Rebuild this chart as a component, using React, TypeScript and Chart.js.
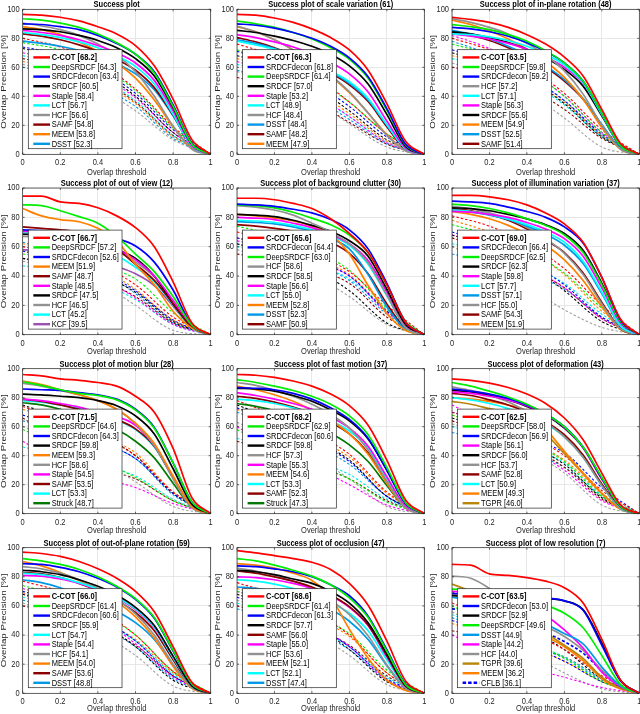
import React, { useEffect, useRef } from "react";
import { Chart, registerables } from "chart.js";
Chart.register(...registerables);

// ---------- shared axes / labels ----------
const THRESH = [0, 0.1, 0.2, 0.3, 0.4, 0.5, 0.6, 0.7, 0.8, 0.9, 1];
const THRESH_D = [0, 0.2, 0.4, 0.6, 0.8, 1];
const X_TICKS = [0, 0.2, 0.4, 0.6, 0.8, 1];
const X_TICK_LABELS = ["0", "0.2", "0.4", "0.6", "0.8", "1"];
const Y_TICKS = [0, 20, 40, 60, 80, 100];
const Y_TICK_LABELS = ["0", "20", "40", "60", "80", "100"];
const X_LABEL = "Overlap threshold";
const Y_LABEL = "Overlap Precision [%]";

// ---------- panel 1 ----------
const P1_TITLE = "Success plot";
const P1_NAMES = ["C-COT", "DeepSRDCF", "SRDCFdecon", "SRDCF", "Staple", "LCT", "HCF", "SAMF", "MEEM", "DSST"];
const P1_SCORES = [68.2, 64.3, 63.4, 60.5, 58.4, 56.7, 56.6, 54.8, 53.8, 52.3];
const P1_CURVES = [
  [96.5, 96, 94.5, 92, 88, 83, 75, 61, 38, 10, 0],
  [93.5, 92.5, 90.5, 87.5, 83, 77, 69, 56, 33, 7, 0],
  [90, 89.5, 88, 86, 82, 76.5, 69, 57, 34, 7.5, 0],
  [86.5, 86, 84.5, 82, 78.5, 73.5, 66, 54, 32, 7, 0],
  [85.5, 84, 82, 79, 75, 70, 63, 51, 30, 6, 0],
  [84, 82.5, 80.5, 77.5, 73.5, 68, 60.5, 48.5, 27.5, 5.5, 0],
  [90.5, 88.5, 86, 82, 76, 68.5, 57, 40, 19.5, 3.5, 0],
  [83, 81.5, 79, 75.5, 71, 65.5, 58, 46, 27, 5.5, 0],
  [88, 86, 82.5, 77.5, 71, 63, 52.5, 37.5, 19, 4, 0],
  [78, 76.5, 74.5, 71.5, 67.5, 62.5, 55.5, 44.5, 26.5, 5.5, 0],
];
const P1_OTHERS = [
  [80, 74, 63, 45, 19, 0], [77, 72, 61, 44, 18, 0], [74, 69, 59, 42, 17, 0], [73, 67, 57, 40, 15, 0],
  [70, 65, 55, 39, 15, 0], [68, 63, 53, 37, 13, 0], [62, 56, 46, 30, 10, 0], [66, 61, 52, 36, 13, 0],
  [64, 59, 50, 35, 12, 0], [60, 55, 47, 33, 11, 0],
];

// ---------- panel 2 ----------
const P2_TITLE = "Success plot of scale variation (61)";
const P2_NAMES = ["C-COT", "SRDCFdecon", "DeepSRDCF", "SRDCF", "Staple", "LCT", "HCF", "DSST", "SAMF", "MEEM"];
const P2_SCORES = [66.3, 61.8, 61.4, 57.0, 53.2, 48.9, 48.4, 48.4, 48.2, 47.9];
const P2_CURVES = [
  [96.5, 96, 94, 91, 86.5, 80.5, 72, 58, 35, 9, 0],
  [90, 89, 87, 84, 80, 74.5, 66.5, 53.5, 31.5, 7, 0],
  [92, 90, 87.5, 84, 79.5, 73.5, 65.5, 52.5, 30.5, 6.5, 0],
  [85.5, 84, 81.5, 78.5, 74.5, 69, 61, 48.5, 27.5, 5.5, 0],
  [82.5, 80.5, 77.5, 74, 69.5, 63.5, 55.5, 43, 23, 4.5, 0],
  [78, 75.5, 72.5, 68.5, 63.5, 57.5, 50, 38.5, 20.5, 4, 0],
  [88.5, 84.5, 79, 72, 64, 54.5, 43, 28.5, 13, 2.5, 0],
  [79, 76.5, 73, 68.5, 63, 57, 49, 37.5, 20, 4, 0],
  [80.5, 77.5, 73.5, 68.5, 62.5, 56, 48, 36.5, 19, 3.5, 0],
  [88, 84.5, 79, 72, 63.5, 54, 42.5, 28.5, 13.5, 2.5, 0],
];
const P2_OTHERS = [
  [76, 68, 55, 36, 14, 0], [72, 65, 53, 36, 14, 0], [71, 63, 50, 33, 12, 0], [68, 61, 48, 30, 10, 0],
  [64, 56, 43, 26, 8, 0], [62, 55, 42, 26, 8, 0], [57, 50, 38, 21, 5, 0], [53, 47, 37, 22, 7, 0],
  [66, 58, 45, 28, 9, 0], [58, 51, 40, 24, 7, 0],
];

// ---------- panel 3 ----------
const P3_TITLE = "Success plot of in-plane rotation (48)";
const P3_NAMES = ["C-COT", "DeepSRDCF", "SRDCFdecon", "HCF", "LCT", "Staple", "SRDCF", "MEEM", "DSST", "SAMF"];
const P3_SCORES = [63.5, 59.8, 59.2, 57.2, 57.1, 56.3, 55.6, 54.9, 52.5, 51.4];
const P3_CURVES = [
  [94.5, 93, 91, 87.5, 82.5, 76, 67, 54, 31, 7.5, 0],
  [89.5, 88, 86, 82.5, 78, 71.5, 63, 50.5, 28.5, 6, 0],
  [87.5, 86.5, 84.5, 81.5, 77, 71, 63, 50.5, 28.5, 6, 0],
  [93.5, 91, 87.5, 83, 76.5, 68.5, 57.5, 41.5, 20, 3.5, 0],
  [83, 82.5, 81, 78.5, 74.5, 69, 61.5, 49.5, 27.5, 5.5, 0],
  [83, 81.5, 79.5, 76.5, 72.5, 67, 60, 49, 28, 6, 0],
  [84.5, 83, 80.5, 77, 72.5, 66.5, 58.5, 47, 26.5, 5.5, 0],
  [92.5, 89.5, 85, 79.5, 72.5, 64, 53, 38, 18.5, 3.5, 0],
  [85.5, 83, 79.5, 74.5, 68.5, 61, 51.5, 38.5, 20.5, 4, 0],
  [84, 82, 78.5, 73.5, 67.5, 60, 50.5, 38, 20, 4, 0],
];
const P3_OTHERS = [
  [80, 72, 60, 42, 17, 0], [76, 69, 58, 40, 15, 0], [72, 65, 54, 37, 14, 0], [70, 63, 52, 35, 12, 0],
  [82, 73, 59, 40, 15, 0], [66, 60, 50, 34, 12, 0], [63, 55, 43, 25, 5, 0], [60, 55, 46, 31, 11, 0],
  [68, 62, 51, 36, 13, 0], [78, 69, 55, 37, 13, 0],
];

// ---------- panel 4 ----------
const P4_TITLE = "Success plot of out of view (12)";
const P4_NAMES = ["C-COT", "DeepSRDCF", "SRDCFdecon", "MEEM", "SAMF", "Staple", "SRDCF", "HCF", "LCT", "KCF"];
const P4_SCORES = [66.7, 57.2, 52.6, 51.9, 48.7, 48.5, 47.5, 46.5, 45.2, 39.5];
const P4_CURVES = [
  [94.5, 94.5, 90.5, 89.5, 86.5, 81, 73, 60, 36, 8, 0],
  [88.5, 88, 84.5, 80.5, 76, 67, 55, 43, 26, 6.5, 0],
  [71.5, 71, 70, 69, 67.5, 65.5, 60.5, 49.5, 30.5, 6.5, 0],
  [86, 81, 78.5, 77, 72.5, 64, 48, 34, 16, 4.5, 0],
  [73.5, 72.5, 71.5, 70, 66.5, 58.5, 48, 37, 21, 5, 0],
  [70.5, 70, 69, 67.5, 64.5, 58.5, 51, 40, 23.5, 6, 0],
  [68.5, 68, 67, 65.5, 63, 58, 52, 40, 21, 5.5, 0],
  [67, 66.5, 65.5, 64, 62, 57, 49.5, 39.5, 22.5, 5, 0],
  [70, 68.5, 66, 63.5, 60, 54, 46, 36, 20.5, 4.5, 0],
  [58, 57, 55.5, 53.5, 50.5, 46.5, 41.5, 33.5, 19.5, 4.5, 0],
];
const P4_OTHERS = [
  [60, 55, 48, 34, 12, 0], [55, 52, 47, 38, 15, 0], [57, 52, 44, 30, 10, 0], [52, 48, 41, 29, 9, 0],
  [57, 50, 40, 25, 7, 0], [47, 43, 36, 24, 7, 0], [50, 45, 36, 20, 3, 0], [52, 47, 38, 26, 8, 0],
  [62, 56, 46, 31, 10, 0], [63, 57, 45, 28, 8, 0],
];

// ---------- panel 5 ----------
const P5_TITLE = "Success plot of background clutter (30)";
const P5_NAMES = ["C-COT", "SRDCFdecon", "DeepSRDCF", "HCF", "SRDCF", "Staple", "LCT", "MEEM", "DSST", "SAMF"];
const P5_SCORES = [65.6, 64.4, 63.0, 58.6, 58.5, 56.6, 55.0, 52.8, 52.3, 50.9];
const P5_CURVES = [
  [93, 93, 92, 89.5, 86, 79, 69, 56, 34, 8.5, 0],
  [89, 88.5, 87.5, 85.5, 83, 78.5, 71.5, 58.5, 35, 8.5, 0],
  [88.5, 88, 86.5, 83.5, 79.5, 75, 68, 56, 34, 9, 0],
  [88, 87, 85, 81.5, 76, 70, 62, 49, 27, 5, 0],
  [82, 81.5, 80.5, 78, 74.5, 70.5, 64, 53.5, 31, 7, 0],
  [80, 79.5, 78.5, 76, 73, 68.5, 62, 50.5, 29, 6, 0],
  [78, 77.5, 76.5, 74.5, 71.5, 67.5, 61, 48, 26.5, 5, 0],
  [82, 81, 79.5, 77.5, 74, 68.5, 55, 33.5, 14.5, 3, 0],
  [77, 76.5, 75.5, 73.5, 70.5, 65.5, 58.5, 41, 19, 3.5, 0],
  [75, 74, 72.5, 70.5, 67.5, 63, 55.5, 41.5, 21, 4, 0],
];
const P5_OTHERS = [
  [70, 64, 55, 43, 20, 0], [74, 68, 58, 44, 18, 0], [66, 60, 51, 40, 16, 0], [62, 54, 45, 30, 8, 0],
  [64, 58, 50, 40, 15, 0], [60, 55, 48, 38, 17, 0], [58, 50, 41, 26, 7, 0], [55, 51, 45, 35, 12, 0],
  [66, 60, 52, 41, 16, 0], [62, 56, 48, 37, 14, 0],
];

// ---------- panel 6 ----------
const P6_TITLE = "Success plot of illumination variation (37)";
const P6_NAMES = ["C-COT", "SRDCFdecon", "DeepSRDCF", "SRDCF", "Staple", "LCT", "DSST", "HCF", "SAMF", "MEEM"];
const P6_SCORES = [69.0, 66.4, 62.5, 62.3, 59.8, 57.7, 57.1, 55.0, 54.3, 51.9];
const P6_CURVES = [
  [95, 95, 94, 92, 88.5, 83, 75.5, 63, 39, 10.5, 0],
  [91, 90.5, 89.5, 87, 84, 80, 73.5, 62.5, 39, 10, 0],
  [89, 88, 86, 83, 79, 74.5, 68, 56, 34, 9, 0],
  [86.5, 86, 84.5, 82, 79, 75, 69, 57.5, 35, 9, 0],
  [84, 83.5, 82, 80, 76.5, 72, 65.5, 53.5, 32, 8, 0],
  [85, 84, 82, 79, 75, 70, 63, 50, 29, 6, 0],
  [85, 83.5, 81.5, 78.5, 74, 68.5, 61, 48.5, 28, 6, 0],
  [87.5, 86, 83, 79, 73, 65.5, 55.5, 41, 21, 4, 0],
  [86, 84.5, 82, 78, 72, 64.5, 56, 42, 22, 4, 0],
  [84, 82, 79, 74.5, 68.5, 61, 51, 37, 19, 3.5, 0],
];
const P6_OTHERS = [
  [81, 74, 62, 45, 20, 0], [75, 68, 57, 42, 18, 0], [70, 62, 50, 34, 12, 0], [68, 60, 48, 30, 9, 0],
  [68, 60, 47, 32, 11, 0], [62, 56, 47, 35, 14, 0], [60, 48, 33, 17, 5, 0], [66, 58, 46, 32, 11, 0],
  [78, 70, 58, 41, 16, 0], [55, 50, 42, 31, 12, 0],
];

// ---------- panel 7 ----------
const P7_TITLE = "Success plot of motion blur (28)";
const P7_NAMES = ["C-COT", "DeepSRDCF", "SRDCFdecon", "SRDCF", "MEEM", "HCF", "Staple", "SAMF", "LCT", "Struck"];
const P7_SCORES = [71.5, 64.6, 64.3, 59.8, 59.3, 58.6, 54.5, 53.5, 53.3, 48.7];
const P7_CURVES = [
  [96, 95, 93, 92, 90.5, 88, 81, 70, 45, 11, 0],
  [91, 88.5, 85.5, 83, 81.5, 78.5, 71.5, 59, 35, 8, 0],
  [86, 85.5, 85, 83.5, 82, 79, 72, 59.5, 35, 8, 0],
  [82.5, 82, 81, 80, 78, 74.5, 67.5, 55, 31, 6.5, 0],
  [91.5, 89, 85.5, 82, 78, 72, 62.5, 48.5, 26, 5, 0],
  [90, 88, 85, 82, 78, 72, 62, 47, 24, 4, 0],
  [79, 78, 76, 73.5, 70, 67, 61, 47, 25, 5, 0],
  [79, 77.5, 75, 72, 69, 65, 58.5, 46.5, 25, 5, 0],
  [78, 77, 75, 72.5, 69, 64.5, 58, 46, 25, 5, 0],
  [76.5, 75, 72, 67.5, 63, 58, 50, 38.5, 21, 4.5, 0],
];
const P7_OTHERS = [
  [74, 65, 54, 40, 15, 0], [58, 47, 37, 25, 9, 0], [68, 60, 50, 38, 14, 0], [75, 66, 55, 40, 14, 0],
  [50, 35, 25, 18, 7, 0], [46, 40, 34, 26, 10, 0], [60, 50, 38, 22, 5, 0], [66, 50, 32, 24, 9, 0],
  [72, 64, 54, 42, 15, 0], [64, 58, 49, 38, 13, 0],
];

// ---------- panel 8 ----------
const P8_TITLE = "Success plot of fast motion (37)";
const P8_NAMES = ["C-COT", "DeepSRDCF", "SRDCFdecon", "SRDCF", "HCF", "Staple", "MEEM", "LCT", "SAMF", "Struck"];
const P8_SCORES = [68.2, 62.9, 60.6, 59.8, 57.3, 55.3, 54.6, 53.3, 52.3, 47.3];
const P8_CURVES = [
  [96, 95.5, 94, 91.5, 88, 82.5, 74.5, 61, 37, 9.5, 0],
  [92.5, 90.5, 88, 85, 81, 75.5, 67.5, 54.5, 32, 7.5, 0],
  [87, 86.5, 85.5, 83, 79, 73, 65, 52, 30, 7, 0],
  [86.5, 86, 84.5, 81.5, 77.5, 71.5, 64, 51.5, 30, 7, 0],
  [90.5, 88.5, 85, 81, 75.5, 68.5, 59, 44, 22.5, 4, 0],
  [83.5, 81.5, 79, 76, 72, 66.5, 59, 46.5, 25.5, 5, 0],
  [88, 85.5, 82, 77.5, 71.5, 64.5, 55, 41, 21, 4, 0],
  [79, 78, 76, 73, 69, 64, 57, 45, 24.5, 5, 0],
  [81, 79.5, 77, 73.5, 69, 63, 55, 42, 22, 4.5, 0],
  [76, 74, 71, 66.5, 61.5, 55.5, 47.5, 36, 19.5, 4, 0],
];
const P8_OTHERS = [
  [78, 68, 56, 41, 15, 0], [58, 45, 34, 24, 8, 0], [73, 63, 51, 36, 12, 0], [75, 65, 52, 37, 12, 0],
  [60, 45, 33, 20, 6, 0], [52, 45, 37, 27, 10, 0], [63, 52, 40, 24, 5, 0], [50, 42, 34, 24, 9, 0],
  [72, 63, 52, 39, 14, 0], [70, 60, 48, 34, 12, 0],
];

// ---------- panel 9 ----------
const P9_TITLE = "Success plot of deformation (43)";
const P9_NAMES = ["C-COT", "DeepSRDCF", "SRDCFdecon", "Staple", "SRDCF", "HCF", "SAMF", "LCT", "MEEM", "TGPR"];
const P9_SCORES = [62.5, 58.0, 56.9, 56.1, 56.0, 53.7, 52.8, 50.9, 49.3, 46.0];
const P9_CURVES = [
  [93, 92, 90, 87, 82.5, 76, 66, 51, 28, 6, 0],
  [90.5, 88, 84.5, 80.5, 75.5, 69, 60, 46, 25, 5, 0],
  [86, 84.5, 82.5, 79.5, 75, 69, 60, 46, 24.5, 5, 0],
  [84, 83, 81, 78.5, 74.5, 68.5, 59.5, 45.5, 24, 5, 0],
  [85, 84, 81.5, 78.5, 74, 68, 59, 45.5, 24, 5, 0],
  [87.5, 85, 81.5, 77, 70.5, 63, 53, 39, 19.5, 3.5, 0],
  [83, 81.5, 78.5, 75, 70, 63.5, 54.5, 40.5, 20.5, 4, 0],
  [80, 78.5, 76, 72.5, 68, 62, 53, 39, 19.5, 3.5, 0],
  [80, 79, 77.5, 75, 71, 58.5, 43, 28, 14, 3, 0],
  [77.5, 75.5, 72.5, 69.5, 65, 55, 41.5, 27.5, 14, 3, 0],
];
const P9_OTHERS = [
  [70, 64, 54, 40, 16, 0], [68, 60, 50, 36, 12, 0], [70, 62, 52, 42, 18, 0], [66, 58, 48, 34, 11, 0],
  [75, 62, 46, 30, 9, 0], [60, 54, 46, 35, 13, 0], [62, 54, 44, 28, 6, 0], [64, 56, 46, 32, 10, 0],
  [68, 60, 50, 37, 14, 0], [56, 50, 42, 32, 12, 0],
];

// ---------- panel 10 ----------
const P10_TITLE = "Success plot of out-of-plane rotation (59)";
const P10_NAMES = ["C-COT", "DeepSRDCF", "SRDCFdecon", "SRDCF", "LCT", "Staple", "HCF", "MEEM", "SAMF", "DSST"];
const P10_SCORES = [66.0, 61.4, 60.6, 55.9, 54.7, 54.4, 54.1, 54.0, 53.6, 48.8];
const P10_CURVES = [
  [97, 96, 94, 90.5, 85.5, 79, 70, 56, 32, 7.5, 0],
  [92.5, 91, 88.5, 85, 80, 73.5, 65, 52, 29.5, 6.5, 0],
  [89, 88.5, 86.5, 83.5, 79, 73, 64.5, 51.5, 29, 6.5, 0],
  [84.5, 83.5, 81.5, 78, 73.5, 67.5, 59, 46.5, 25.5, 5, 0],
  [82.5, 81.5, 79.5, 76, 71.5, 66, 58, 45.5, 24.5, 5, 0],
  [81, 80.5, 78.5, 75.5, 71, 65.5, 57.5, 45, 24.5, 5, 0],
  [87, 85.5, 82.5, 78, 72, 64.5, 54.5, 40, 20, 4, 0],
  [90.5, 87.5, 83, 77.5, 71, 63, 52.5, 38, 18.5, 3.5, 0],
  [83, 82, 79.5, 75.5, 70.5, 64, 55.5, 43, 23, 4.5, 0],
  [78, 76, 72.5, 68, 63, 56.5, 48.5, 37, 19.5, 4, 0],
];
const P10_OTHERS = [
  [77, 70, 58, 40, 15, 0], [74, 67, 56, 40, 15, 0], [70, 63, 52, 36, 12, 0], [68, 60, 49, 32, 9, 0],
  [72, 64, 52, 34, 11, 0], [66, 60, 50, 36, 13, 0], [62, 53, 42, 26, 5, 0], [60, 55, 46, 33, 12, 0],
  [69, 62, 51, 37, 14, 0], [64, 57, 47, 32, 10, 0],
];

// ---------- panel 11 ----------
const P11_TITLE = "Success plot of occlusion (47)";
const P11_NAMES = ["C-COT", "DeepSRDCF", "SRDCFdecon", "SRDCF", "SAMF", "Staple", "HCF", "MEEM", "LCT", "DSST"];
const P11_SCORES = [68.6, 61.4, 61.3, 57.7, 56.0, 55.0, 53.6, 52.1, 52.1, 47.4];
const P11_CURVES = [
  [98, 96.5, 94.5, 92.5, 90, 85, 75.5, 60.5, 36, 8.5, 0],
  [92.5, 91, 88, 84.5, 80.5, 74.5, 65.5, 52, 29, 6, 0],
  [87.5, 87, 85.5, 83.5, 80, 74.5, 67, 53, 30, 6.5, 0],
  [84.5, 83.5, 81.5, 78.5, 75.5, 70, 62, 48.5, 27, 5.5, 0],
  [84, 82.5, 80, 77, 73, 67.5, 59.5, 47, 26, 5, 0],
  [80, 79.5, 78, 75.5, 72, 67, 59, 46.5, 25, 5, 0],
  [86, 84, 81, 77, 71.5, 64, 54, 39.5, 19.5, 3.5, 0],
  [89, 88, 86, 82.5, 77.5, 66, 44, 24, 9, 2, 0],
  [78, 77, 75, 72, 68, 62.5, 55, 43, 23, 4.5, 0],
  [73, 72, 70, 67, 63, 57.5, 49.5, 37, 19, 3.5, 0],
];
const P11_OTHERS = [
  [76, 68, 56, 40, 14, 0], [70, 64, 54, 41, 16, 0], [66, 58, 47, 32, 10, 0], [68, 60, 48, 30, 8, 0],
  [70, 62, 49, 32, 9, 0], [62, 55, 45, 32, 11, 0], [64, 55, 42, 26, 6, 0], [60, 54, 45, 33, 12, 0],
  [72, 64, 53, 39, 14, 0], [58, 52, 43, 30, 9, 0],
];

// ---------- panel 12 ----------
const P12_TITLE = "Success plot of low resolution (7)";
const P12_NAMES = ["C-COT", "SRDCFdecon", "SRDCF", "DeepSRDCF", "DSST", "Staple", "HCF", "TGPR", "MEEM", "CFLB"];
const P12_SCORES = [63.5, 53.0, 52.9, 49.6, 44.9, 44.2, 44.0, 39.6, 36.2, 36.1];
const P12_CURVES = [
  [88.5, 88, 82, 81, 79.5, 77, 72.5, 62, 37, 9, 0],
  [68.5, 68, 67.5, 67, 66.5, 65.5, 63.5, 57, 33, 8.5, 0],
  [67, 66.5, 66, 66, 65.5, 65, 63.5, 57.5, 34.5, 9, 0],
  [71.5, 71, 70, 68, 64, 60.5, 55, 45, 26, 6, 0],
  [66, 64, 61, 57, 52.5, 47.5, 41, 34, 18, 5, 0],
  [70, 69.5, 67.5, 64, 59.5, 53.5, 43.5, 31, 14.5, 4.5, 0],
  [80.5, 79, 72, 62, 53, 46, 39, 29.5, 16, 5, 0],
  [75, 70, 62, 54, 47, 41, 33, 24, 11, 3.5, 0],
  [68, 64.5, 58, 51, 45, 39, 32, 22.5, 10, 3, 0],
  [58, 56.5, 53.5, 50, 46, 41.5, 35.5, 27.5, 15.5, 4.5, 0],
];
const P12_OTHERS = [
  [62, 52, 42, 30, 12, 0], [60, 48, 36, 24, 8, 0], [50, 42, 33, 22, 8, 0], [70, 58, 45, 30, 10, 0],
  [40, 28, 18, 11, 4, 0], [54, 45, 35, 25, 10, 0], [56, 42, 28, 14, 3, 0], [43, 38, 32, 25, 10, 0],
  [48, 40, 32, 22, 8, 0], [52, 43, 34, 24, 9, 0],
];

// ---------- styles ----------
const TRACKER_COLORS: Record<string, string> = {
  "C-COT": "#ff0000",
  DeepSRDCF: "#00ee00",
  SRDCFdecon: "#0000ff",
  SRDCF: "#000000",
  Staple: "#ff00ff",
  LCT: "#00ffff",
  HCF: "#919191",
  SAMF: "#8b0000",
  MEEM: "#ff8000",
  DSST: "#0099e6",
  KCF: "#9b4fb0",
  Struck: "#007a00",
  TGPR: "#b8860b",
  CFLB: "#0000ff",
};
const DASHED_TRACKERS = ["CFLB"];
const OTHER_COLORS = ["#ff0000", "#00ee00", "#0000ff", "#000000", "#ff00ff", "#00e5e5", "#a0a0a0", "#8b0000", "#ff8000", "#0099e6"];

const FONT_FAMILY = '"Liberation Sans", Arial, Helvetica, sans-serif';
const FS = 7.5;
const SY = 1.17; // vertical stretch of horizontal text
const AXIS_COLOR = "#262626";

// layout (absolute page geometry)
const COL_X = [0, 213, 426];
const COL_W = [213, 213, 214];
const ROW_Y = [0, 178, 357, 535];
const ROW_H = [178, 179, 178, 179];
const PLOT_L = [22.7, 237, 452];
const PLOT_R = [210.7, 424.3, 639.3];
const PLOT_T = [9.3, 188, 368.7, 547.7];
const PLOT_B = [154.3, 334.7, 513.7, 693.3];
const XLABEL_OFF = [17.8, 16.6, 16.6, 15.2];

const PANELS = [
  { title: P1_TITLE, names: P1_NAMES, scores: P1_SCORES, curves: P1_CURVES, others: P1_OTHERS },
  { title: P2_TITLE, names: P2_NAMES, scores: P2_SCORES, curves: P2_CURVES, others: P2_OTHERS },
  { title: P3_TITLE, names: P3_NAMES, scores: P3_SCORES, curves: P3_CURVES, others: P3_OTHERS },
  { title: P4_TITLE, names: P4_NAMES, scores: P4_SCORES, curves: P4_CURVES, others: P4_OTHERS },
  { title: P5_TITLE, names: P5_NAMES, scores: P5_SCORES, curves: P5_CURVES, others: P5_OTHERS },
  { title: P6_TITLE, names: P6_NAMES, scores: P6_SCORES, curves: P6_CURVES, others: P6_OTHERS },
  { title: P7_TITLE, names: P7_NAMES, scores: P7_SCORES, curves: P7_CURVES, others: P7_OTHERS },
  { title: P8_TITLE, names: P8_NAMES, scores: P8_SCORES, curves: P8_CURVES, others: P8_OTHERS },
  { title: P9_TITLE, names: P9_NAMES, scores: P9_SCORES, curves: P9_CURVES, others: P9_OTHERS },
  { title: P10_TITLE, names: P10_NAMES, scores: P10_SCORES, curves: P10_CURVES, others: P10_OTHERS },
  { title: P11_TITLE, names: P11_NAMES, scores: P11_SCORES, curves: P11_CURVES, others: P11_OTHERS },
  { title: P12_TITLE, names: P12_NAMES, scores: P12_SCORES, curves: P12_CURVES, others: P12_OTHERS },
];

function font(size: number, bold = false) {
  return `${bold ? "bold " : ""}${size}px ${FONT_FAMILY}`;
}

function stretchedText(
  ctx: CanvasRenderingContext2D, text: string, x: number, y: number,
  align: CanvasTextAlign, baseline: CanvasTextBaseline, bold = false,
) {
  ctx.save();
  ctx.translate(x, y);
  ctx.scale(1, SY);
  ctx.font = font(FS, bold);
  ctx.textAlign = align;
  ctx.textBaseline = baseline;
  ctx.fillText(text, 0, 0);
  ctx.restore();
}

const framePlugin = {
  id: "matlabFrame",
  afterDraw(chart: any) {
    const ctx = chart.ctx as CanvasRenderingContext2D;
    const { left, right, top, bottom } = chart.chartArea;
    const panel = chart.config.options.plugins.matlabFrame;
    const xs = chart.scales.x, ys = chart.scales.y;
    ctx.save();
    // box
    ctx.strokeStyle = AXIS_COLOR;
    ctx.lineWidth = 0.7;
    ctx.setLineDash([]);
    ctx.strokeRect(left, top, right - left, bottom - top);
    // inward ticks
    ctx.beginPath();
    X_TICKS.forEach((v) => {
      const px = xs.getPixelForValue(v);
      ctx.moveTo(px, bottom); ctx.lineTo(px, bottom - 2);
      ctx.moveTo(px, top); ctx.lineTo(px, top + 2);
    });
    Y_TICKS.forEach((v) => {
      const py = ys.getPixelForValue(v);
      ctx.moveTo(left, py); ctx.lineTo(left + 2, py);
      ctx.moveTo(right, py); ctx.lineTo(right - 2, py);
    });
    ctx.stroke();

    // tick labels
    ctx.fillStyle = AXIS_COLOR;
    X_TICKS.forEach((v, i) => {
      stretchedText(ctx, X_TICK_LABELS[i], xs.getPixelForValue(v), bottom + 8.4, "center", "middle");
    });
    Y_TICKS.forEach((v, i) => {
      stretchedText(ctx, Y_TICK_LABELS[i], left - 3, ys.getPixelForValue(v), "right", "middle");
    });

    // title
    ctx.fillStyle = "#000";
    stretchedText(ctx, panel.title, (left + right) / 2, top - 2.2, "center", "alphabetic", true);

    // x label
    ctx.fillStyle = AXIS_COLOR;
    stretchedText(ctx, X_LABEL, (left + right) / 2, bottom + panel.xOff, "center", "middle");

    // y label (rotated, stretched along its length)
    ctx.save();
    ctx.translate(left - 19, (top + bottom) / 2);
    ctx.rotate(-Math.PI / 2);
    ctx.scale(1.3, 1);
    ctx.font = font(FS);
    ctx.textAlign = "center";
    ctx.textBaseline = "middle";
    ctx.fillText(Y_LABEL, 0, 0);
    ctx.restore();

    // legend (inside, south-west)
    const names: string[] = panel.names;
    const scores: number[] = panel.scores;
    const labels = names.map((n, i) => `${n} [${scores[i].toFixed(1)}]`);
    let maxW = 0;
    labels.forEach((l, i) => {
      ctx.font = font(FS, i === 0);
      maxW = Math.max(maxW, ctx.measureText(l).width);
    });
    const rowH = 9.6;
    const boxL = left + 5.6;
    const boxW = 23.4 + maxW + 3.2;
    const boxH = 7.7 + rowH * (labels.length - 1) + 4.9;
    const boxB = bottom - 5.6;
    const boxT = boxB - boxH;
    ctx.fillStyle = "#ffffff";
    ctx.fillRect(boxL, boxT, boxW, boxH);
    ctx.strokeStyle = AXIS_COLOR;
    ctx.lineWidth = 0.7;
    ctx.strokeRect(boxL, boxT, boxW, boxH);
    labels.forEach((l, i) => {
      const cy = boxT + 7.7 + i * rowH;
      ctx.beginPath();
      ctx.strokeStyle = TRACKER_COLORS[names[i]] || "#000";
      ctx.lineWidth = 2.4;
      ctx.setLineDash(DASHED_TRACKERS.includes(names[i]) ? [3.5, 2] : []);
      ctx.moveTo(boxL + 5, cy);
      ctx.lineTo(boxL + 21.7, cy);
      ctx.stroke();
      ctx.setLineDash([]);
      ctx.fillStyle = "#000";
      stretchedText(ctx, l, boxL + 23.4, cy + 0.3, "left", "middle", i === 0);
    });
    ctx.restore();
  },
};

function Panel({ index }: { index: number }) {
  const ref = useRef<HTMLCanvasElement>(null);
  const r = Math.floor(index / 3);
  const c = index % 3;
  const W = COL_W[c];
  const H = ROW_H[r];
  useEffect(() => {
    const p = PANELS[index];
    const yW = PLOT_L[c] - COL_X[c];
    const padR = COL_X[c] + W - PLOT_R[c];
    const padT = PLOT_T[r] - ROW_Y[r];
    const xH = ROW_Y[r] + H - PLOT_B[r];

    const solid = p.curves.map((vals, i) => ({
      data: THRESH.map((x, k) => ({ x, y: vals[k] })),
      borderColor: TRACKER_COLORS[p.names[i]] || "#000",
      borderWidth: 1.7,
      borderDash: DASHED_TRACKERS.includes(p.names[i]) ? [3, 2] : [],
      fill: false,
      pointRadius: 0,
      cubicInterpolationMode: "monotone",
    }));
    const others = p.others.map((vals, i) => ({
      data: THRESH_D.map((x, k) => ({ x, y: vals[k] })),
      borderColor: OTHER_COLORS[i % OTHER_COLORS.length],
      borderWidth: 1.1,
      borderDash: [2.5, 2],
      fill: false,
      pointRadius: 0,
      cubicInterpolationMode: "monotone",
    }));

    const chart = new Chart(ref.current as HTMLCanvasElement, {
      type: "line",
      data: { datasets: [...solid, ...others] as any },
      options: {
        responsive: false,
        animation: false,
        events: [],
        layout: { padding: { left: 0, right: padR, top: padT, bottom: 0 } },
        plugins: {
          legend: { display: false },
          title: { display: false },
          tooltip: { enabled: false },
          matlabFrame: { title: p.title, names: p.names, scores: p.scores, xOff: XLABEL_OFF[r] },
        } as any,
        scales: {
          x: {
            type: "linear",
            min: 0,
            max: 1,
            afterBuildTicks: (s: any) => { s.ticks = X_TICKS.map((v) => ({ value: v })); },
            afterFit: (s: any) => { s.height = xH; },
            ticks: { display: false },
            grid: { color: "#e1e1e1", lineWidth: 0.8, drawTicks: false },
            border: { display: false },
          },
          y: {
            type: "linear",
            min: 0,
            max: 100,
            afterBuildTicks: (s: any) => { s.ticks = Y_TICKS.map((v) => ({ value: v })); },
            afterFit: (s: any) => { s.width = yW; },
            ticks: { display: false },
            grid: { color: "#e1e1e1", lineWidth: 0.8, drawTicks: false },
            border: { display: false },
          },
        },
      } as any,
      plugins: [framePlugin],
    });
    return () => chart.destroy();
  }, []);
  return (
    <canvas
      ref={ref}
      width={W}
      height={H}
      style={{ position: "absolute", left: COL_X[c], top: ROW_Y[r], width: W, height: H }}
    />
  );
}

export default function App() {
  return (
    <div style={{ position: "fixed", left: 0, top: 0, width: 640, height: 714, background: "#ffffff", overflow: "hidden" }}>
      {PANELS.map((_, i) => (
        <Panel key={i} index={i} />
      ))}
    </div>
  );
}
